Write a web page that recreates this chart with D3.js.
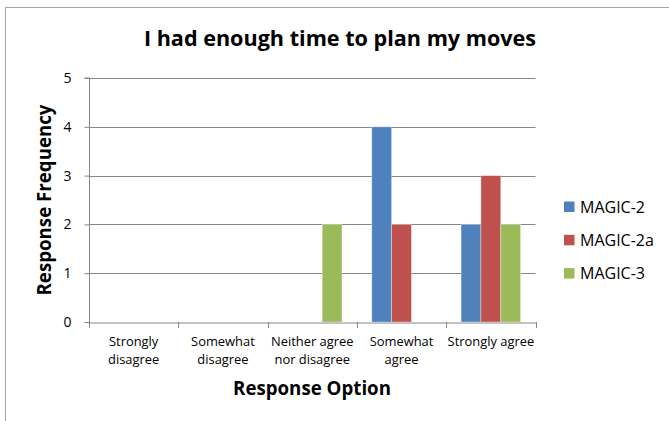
<!DOCTYPE html>
<html><head><meta charset="utf-8">
<script src="https://cdn.jsdelivr.net/npm/d3@7"></script>
<style>body{margin:0;background:#fff;} svg{display:block;} text{font-family:"Open Sans","Liberation Sans",sans-serif;}</style>
</head><body>
<svg id="c" width="669" height="421"></svg>
<script>
const categories = ["Strongly disagree","Somewhat disagree","Neither agree nor disagree","Somewhat agree","Strongly agree"];
const categoryLines = [["Strongly","disagree"],["Somewhat","disagree"],["Neither agree","nor disagree"],["Somewhat","agree"],["Strongly agree"]];
const seriesNames = ["MAGIC-2","MAGIC-2a","MAGIC-3"];
const magic2 = [0,0,0,4,2];
const magic2a = [0,0,0,2,3];
const magic3 = [0,0,2,0,2];
const yTicks = [0,1,2,3,4,5];
const colors = ["#4F81BD","#C0504D","#9BBB59"];
const seriesValues = [magic2, magic2a, magic3];

const svg = d3.select("#c");
svg.append("rect").attr("x",5.5).attr("y",7.5).attr("width",700).attr("height",450)
  .attr("fill","none").attr("stroke","#a6a6a6").attr("stroke-width",1);

const L=89, R=535.5, T=78, B=322;
const x = d3.scaleBand().domain(categories).range([L,R]).paddingInner(0).paddingOuter(0);
const y = d3.scaleLinear().domain([0,5]).range([B,T]);
const inner = d3.scaleBand().domain(seriesNames).range([0,x.bandwidth()]).paddingInner(0).paddingOuter(0.75);

// gridlines
svg.append("g").selectAll("line").data(yTicks.filter(d=>d>0)).join("line")
  .attr("x1",L).attr("x2",R).attr("y1",d=>Math.round(y(d))+0.5).attr("y2",d=>Math.round(y(d))+0.5)
  .attr("stroke","#868686").attr("stroke-width",1);

// bars
const data=[];
categories.forEach((c,i)=>seriesNames.forEach((s,j)=>data.push({c,s,v:seriesValues[j][i],j})));
svg.append("g").selectAll("rect").data(data.filter(d=>d.v>0)).join("rect")
  .attr("x",d=>x(d.c)+inner(d.s)).attr("width",inner.bandwidth())
  .attr("y",d=>y(d.v)).attr("height",d=>y(0)-y(d.v))
  .attr("fill",d=>colors[d.j]).attr("stroke","rgba(255,255,255,0.45)").attr("stroke-width",0.8);

// y axis
const ya = svg.append("g").attr("transform",`translate(${L+0.5},0)`)
  .call(d3.axisLeft(y).tickValues(yTicks).tickSize(5).tickPadding(13).tickFormat(d3.format("d")));
ya.select(".domain").attr("stroke","#868686").attr("d",`M-5,${T}H0V${B}`);
ya.selectAll(".tick line").attr("stroke","#868686");
ya.selectAll(".tick text").attr("font-size",14).attr("fill","#000").attr("font-family","Open Sans");

// x axis
const xa = svg.append("g").attr("transform",`translate(0,${B+0.5})`)
  .call(d3.axisBottom(x).tickSize(0).tickFormat(""));
xa.select(".domain").attr("stroke","#868686");
svg.append("g").selectAll("line").data(d3.range(categories.length+1)).join("line")
  .attr("x1",i=>Math.round(L+i*x.bandwidth())+0.5).attr("x2",i=>Math.round(L+i*x.bandwidth())+0.5)
  .attr("y1",B).attr("y2",B+6).attr("stroke","#868686");
const labs = svg.append("g").selectAll("text").data(categories).join("text")
  .attr("x",d=>x(d)+x.bandwidth()/2).attr("y",346).attr("text-anchor","middle")
  .attr("font-size",12.9).attr("fill","#000");
labs.each(function(d,i){
  const t=d3.select(this);
  categoryLines[i].forEach((ln,k)=>t.append("tspan").attr("x",x(d)+x.bandwidth()/2).attr("dy",k?17.5:0).text(ln));
});

// titles
svg.append("text").attr("x",340).attr("y",46).attr("text-anchor","middle")
  .attr("font-size",21.6).attr("font-weight","bold").attr("fill","#000").text("I had enough time to plan my moves");
svg.append("text").attr("x",312).attr("y",395).attr("text-anchor","middle")
  .attr("font-size",18.7).attr("font-weight","bold").attr("fill","#000").text("Response Option");
svg.append("text").attr("transform","translate(51,200) rotate(-90)").attr("text-anchor","middle")
  .attr("font-size",18.7).attr("font-weight","bold").attr("fill","#000").text("Response Frequency");

// legend
const lg = svg.append("g").selectAll("g").data(seriesNames).join("g")
  .attr("transform",(d,i)=>`translate(564,${201.5+i*33.3})`);
lg.append("rect").attr("width",10.5).attr("height",10.5).attr("fill",(d,i)=>colors[i]);
lg.append("text").attr("x",16).attr("y",11).attr("font-size",16).attr("fill","#000").text(d=>d);
</script>
</body></html>
